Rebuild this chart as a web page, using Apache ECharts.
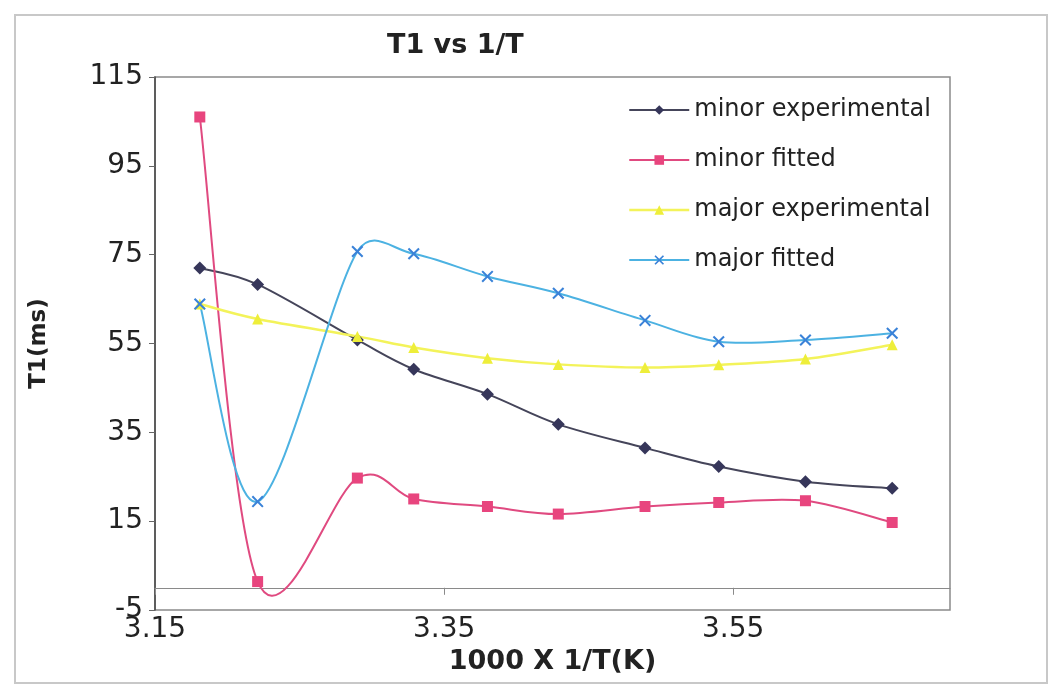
<!DOCTYPE html>
<html><head><meta charset="utf-8">
<script src="https://cdn.jsdelivr.net/npm/echarts@6/dist/echarts.min.js"></script>
<style>html,body{margin:0;padding:0;background:#fff}#c{width:1061px;height:688px}</style>
</head><body><div id="c"></div>
<script>
// 1000 x 1/T (K) positions shared by all series
const xValues = [3.181, 3.221, 3.290, 3.329, 3.380, 3.429, 3.489, 3.540, 3.600, 3.660];
const minorExperimental = [72.0, 68.3, 55.8, 49.2, 43.6, 36.8, 31.5, 27.3, 23.9, 22.4];
const minorFitted       = [106.0, 1.4, 24.7, 20.0, 18.3, 16.6, 18.3, 19.2, 19.6, 14.7];
const majorExperimental = [63.9, 60.5, 56.6, 54.1, 51.7, 50.3, 49.6, 50.2, 51.5, 54.7];
const majorFitted       = [63.9, 19.4, 75.7, 75.2, 70.1, 66.3, 60.2, 55.4, 55.8, 57.3];
const seriesNames = ['minor experimental', 'minor fitted', 'major experimental', 'major fitted'];
const xTicks = [3.15, 3.35, 3.55];
const yTicks = [-5, 15, 35, 55, 75, 95, 115];

const FONT = 'DejaVu Sans';
const xSym = 'path://M0,1.2 L1.2,0 L5,3.8 L8.8,0 L10,1.2 L6.2,5 L10,8.8 L8.8,10 L5,6.2 L1.2,10 L0,8.8 L3.8,5 Z';
const styles = [
  {values: minorExperimental, line: '#45455a', mark: '#36365a', symbol: 'diamond', size: 13, width: 2},
  {values: minorFitted,       line: '#e04a80', mark: '#e8457e', symbol: 'rect',    size: 11, width: 2},
  {values: majorExperimental, line: '#f3f35a', mark: '#eeee3a', symbol: 'triangle', size: 11, width: 2.5},
  {values: majorFitted,       line: '#4cb2e2', mark: '#3a82d8', symbol: xSym,      size: 12, width: 2}
];

const pairs = arr => arr.map((v, i) => [xValues[i], v]);

// Excel-like smoothed segment (cardinal spline, tension 1/6) drawn in pixel space
function capVec(v, maxLen) {
  const l = Math.hypot(v[0], v[1]);
  if (l > maxLen && l > 0) { v[0] *= maxLen / l; v[1] *= maxLen / l; }
  return v;
}
function makeRender(values, color, width) {
  return function (params, api) {
    const pts = xValues.map((x, k) => api.coord([x, values[k]]));
    const i = params.dataIndex;
    const n = pts.length;
    const p0 = pts[Math.max(i - 1, 0)], p1 = pts[i], p2 = pts[i + 1], p3 = pts[Math.min(i + 2, n - 1)];
    const seg = Math.hypot(p2[0] - p1[0], p2[1] - p1[1]);
    const t1 = capVec([(p2[0] - p0[0]) / 6, (p2[1] - p0[1]) / 6], seg * 0.5);
    const t2 = capVec([(p3[0] - p1[0]) / 6, (p3[1] - p1[1]) / 6], seg * 0.5);
    return {
      type: 'bezierCurve',
      shape: {
        x1: p1[0], y1: p1[1], x2: p2[0], y2: p2[1],
        cpx1: p1[0] + t1[0], cpy1: p1[1] + t1[1],
        cpx2: p2[0] - t2[0], cpy2: p2[1] - t2[1]
      },
      style: {fill: null, stroke: color, lineWidth: width}
    };
  };
}

const series = [];
styles.forEach((s, k) => {
  series.push({
    type: 'custom', name: '_curve' + k, xAxisIndex: 0, yAxisIndex: 0, z: 1, silent: true,
    data: pairs(s.values).slice(0, -1),
    renderItem: makeRender(s.values, s.line, s.width),
    clip: true
  });
});
styles.forEach((s, k) => {
  series.push({
    name: seriesNames[k], type: 'line', xAxisIndex: 0, z: 3,
    data: pairs(s.values),
    symbol: s.symbol, symbolSize: s.size,
    lineStyle: {color: s.line, width: s.width, opacity: 0},
    itemStyle: {color: s.mark}
  });
});

const chart = echarts.init(document.getElementById('c'), null, {renderer: 'canvas'});
chart.setOption({
  backgroundColor: '#ffffff',
  animation: false,
  title: {
    text: 'T1 vs 1/T', left: 382, top: 27,
    textStyle: {fontFamily: FONT, fontWeight: 'bold', fontSize: 27, color: '#222'}
  },
  graphic: [{
    type: 'rect', shape: {x: 15, y: 15, width: 1032, height: 668},
    style: {fill: 'none', stroke: '#c8c8c8', lineWidth: 2}, silent: true, z: -1
  }],
  legend: {
    orient: 'vertical', left: 623, top: 93,
    itemWidth: 60, itemHeight: 12, itemGap: 26,
    textStyle: {fontFamily: FONT, fontSize: 24, color: '#222', lineHeight: 24},
    data: seriesNames.map((nm, k) => ({
      name: nm,
      lineStyle: {color: styles[k].line, width: styles[k].width, opacity: 1}
    }))
  },
  grid: {left: 155, top: 77, right: 111, bottom: 78, show: true, borderColor: '#8a8a8a', borderWidth: 1.5},
  xAxis: [{
    type: 'value', min: 3.15, max: 3.70, interval: 0.2, position: 'bottom',
    axisLine: {show: false, onZero: false},
    axisTick: {show: false},
    splitLine: {show: false},
    axisLabel: {
      customValues: xTicks, margin: 6,
      formatter: v => v.toFixed(2),
      fontFamily: FONT, fontSize: 28, color: '#222'
    },
    name: '1000 X 1/T(K)', nameLocation: 'middle', nameGap: 38,
    nameTextStyle: {fontFamily: FONT, fontWeight: 'bold', fontSize: 27, color: '#222'}
  }, {
    type: 'value', min: 3.15, max: 3.70, interval: 0.2, position: 'top',
    axisLine: {show: true, onZero: true, lineStyle: {color: '#8a8a8a', width: 1.2}},
    axisTick: {show: true, inside: true, length: 7, customValues: xTicks, lineStyle: {color: '#8a8a8a'}},
    axisLabel: {show: false},
    splitLine: {show: false}
  }],
  yAxis: {
    type: 'value', min: -5, max: 115,
    axisLine: {show: true, lineStyle: {color: '#444', width: 1.5}},
    axisTick: {show: true, length: 6, customValues: yTicks, lineStyle: {color: '#666'}},
    splitLine: {show: false},
    axisLabel: {customValues: yTicks, margin: 12, fontFamily: FONT, fontSize: 28, color: '#222'},
    name: 'T1(ms)', nameLocation: 'middle', nameGap: 104, nameRotate: 90,
    nameTextStyle: {fontFamily: FONT, fontWeight: 'bold', fontSize: 23, color: '#222'}
  },
  series: series
});
</script>
</body></html>
